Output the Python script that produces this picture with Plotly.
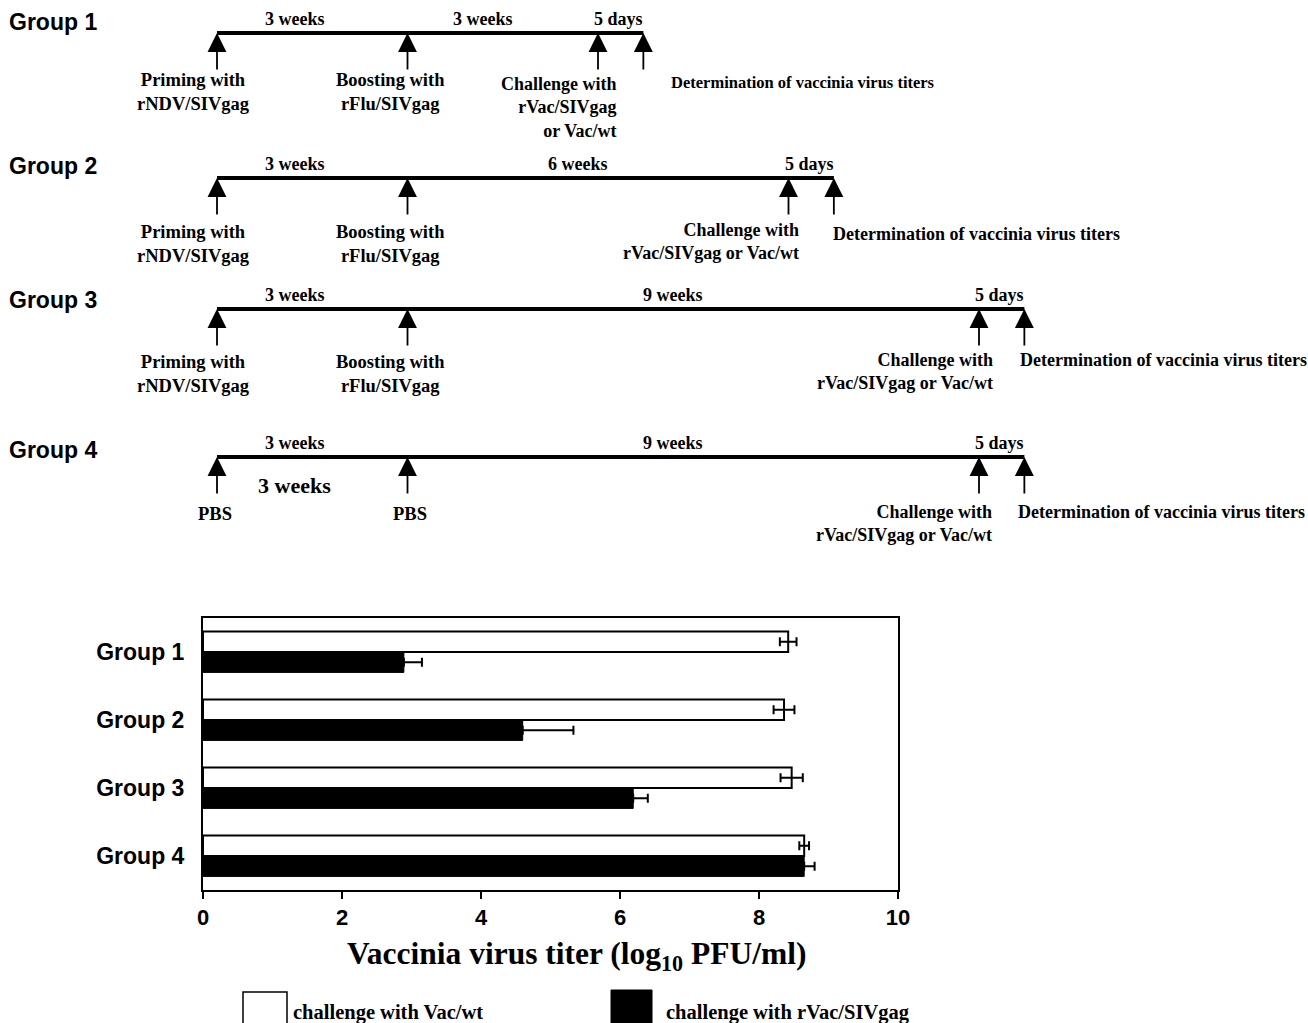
import plotly.graph_objects as go

# ---------------- data: bar chart ----------------
groups = ["Group 1", "Group 2", "Group 3", "Group 4"]
vac_wt = [8.42, 8.36, 8.47, 8.65]          # challenge with Vac/wt
vac_wt_err = [0.12, 0.15, 0.16, 0.07]
rvac_siv = [2.89, 4.60, 6.19, 8.65]        # challenge with rVac/SIVgag
rvac_siv_err = [0.26, 0.73, 0.21, 0.15]
x_ticks = [0, 2, 4, 6, 8, 10]

# ---------------- data: timeline (weeks) ----------------
prime_week = [0, 0, 0, 0]
boost_week = [3, 3, 3, 3]
challenge_week = [6, 9, 12, 12]
assay_days = [5, 5, 5, 5]
prime_text = ["Priming with<br>rNDV/SIVgag"] * 3 + ["PBS"]
boost_text = ["Boosting with<br>rFlu/SIVgag"] * 3 + ["PBS"]
challenge_text = ["Challenge with<br>rVac/SIVgag<br>or Vac/wt"] + ["Challenge with<br>rVac/SIVgag or Vac/wt"] * 3
assay_text = "Determination of vaccinia virus titers"

# ---------------- layout helpers (pixels) ----------------
W, H = 1308, 1023
PX_PER_WEEK = 63.5
X0_PX = 217
row_y = [33, 178, 309, 457]
group_label_y = [22, 166, 300, 450]
label_y = [80, 232, 362, 514]
chal_label_y = [84, 230, 360, 512]
assay_label_y = [83, 234, 360, 512]
prime_shift = [-24, -24, -24, -2]
boost_shift = [-17, -17, -17, 2]
chal_shift = [21, 12, 16, 15]
assay_shift = [26, -3, -6, -8]
assay_size = [16.5, 18, 18, 18]

SERIF = "Liberation Serif"
SANS = "Liberation Sans"

fig = go.Figure()

# bar chart traces
fig.add_trace(go.Bar(
    y=groups, x=vac_wt, orientation="h", name="challenge with Vac/wt",
    marker=dict(color="white", line=dict(color="black", width=2)),
    error_x=dict(type="data", array=vac_wt_err, symmetric=True,
                 color="black", thickness=2, width=4.5),
    xaxis="x", yaxis="y", showlegend=False,
))
fig.add_trace(go.Bar(
    y=groups, x=rvac_siv, orientation="h", name="challenge with rVac/SIVgag",
    marker=dict(color="black", line=dict(color="black", width=1)),
    error_x=dict(type="data", array=rvac_siv_err, arrayminus=[0] * 4, symmetric=False,
                 color="black", thickness=2, width=4.5),
    xaxis="x", yaxis="y", showlegend=False,
))

annotations = []
shapes = []

# timelines
for i in range(4):
    end_w = challenge_week[i] + assay_days[i] / 7.0
    yrow = row_y[i]
    fig.add_trace(go.Scatter(
        x=[prime_week[i], end_w], y=[yrow, yrow], mode="lines",
        line=dict(color="black", width=4), xaxis="x2", yaxis="y2",
        hoverinfo="skip", showlegend=False,
    ))
    events = [prime_week[i], boost_week[i], challenge_week[i], end_w]
    for ev in events:
        annotations.append(dict(
            x=ev, y=yrow, xref="x2", yref="y2", text="", showarrow=True,
            ax=0, ay=38, arrowhead=2, arrowsize=2.1, arrowwidth=1.8, arrowcolor="black",
        ))
    # duration labels
    segs = [(prime_week[i], boost_week[i], f"{boost_week[i] - prime_week[i]} weeks", -17),
            (boost_week[i], challenge_week[i], f"{challenge_week[i] - boost_week[i]} weeks", -20),
            (challenge_week[i], end_w, f"{assay_days[i]} days", -2)]
    for a, b, t, sh in segs:
        annotations.append(dict(
            x=(a + b) / 2, y=yrow - 14, xref="x2", yref="y2", text=f"<b>{t}</b>",
            showarrow=False, xanchor="center", yanchor="middle", xshift=sh,
            font=dict(family=SERIF, size=18, color="black"),
        ))
    # event labels
    annotations.append(dict(
        x=prime_week[i], y=label_y[i] - 12, xref="x2", yref="y2", text=f"<b>{prime_text[i]}</b>",
        showarrow=False, xanchor="center", yanchor="top", xshift=prime_shift[i],
        font=dict(family=SERIF, size=18.5, color="black"),
    ))
    annotations.append(dict(
        x=boost_week[i], y=label_y[i] - 12, xref="x2", yref="y2", text=f"<b>{boost_text[i]}</b>",
        showarrow=False, xanchor="center", yanchor="top", xshift=boost_shift[i],
        font=dict(family=SERIF, size=18.5, color="black"),
    ))
    annotations.append(dict(
        x=challenge_week[i], y=chal_label_y[i] - 12, xref="x2", yref="y2",
        text=f"<b>{challenge_text[i]}</b>", align="right",
        showarrow=False, xanchor="right", yanchor="top", xshift=chal_shift[i],
        font=dict(family=SERIF, size=18, color="black"),
    ))
    annotations.append(dict(
        x=end_w, y=assay_label_y[i] - 12, xref="x2", yref="y2", text=f"<b>{assay_text}</b>",
        showarrow=False, xanchor="left", yanchor="top", xshift=assay_shift[i],
        font=dict(family=SERIF, size=assay_size[i], color="black"),
    ))
    # group label
    annotations.append(dict(
        x=7 / W, y=group_label_y[i], xref="paper", yref="y2", text=f"<b>{groups[i]}</b>",
        showarrow=False, xanchor="left", yanchor="middle",
        font=dict(family=SANS, size=23, color="black"),
    ))

# extra "3 weeks" label under group 4 line
annotations.append(dict(
    x=(prime_week[3] + boost_week[3]) / 2, y=485, xref="x2", yref="y2",
    text=f"<b>{boost_week[3] - prime_week[3]} weeks</b>", showarrow=False,
    xanchor="center", yanchor="middle", xshift=-18,
    font=dict(family=SERIF, size=22, color="black"),
))

# axis title of the bar chart
annotations.append(dict(
    x=576 / W, y=956, xref="paper", yref="y2",
    text="<b>Vaccinia virus titer (log<sub>10</sub> PFU/ml)</b>", showarrow=False,
    xanchor="center", yanchor="middle",
    font=dict(family=SERIF, size=31.5, color="black"),
))

# legend
shapes.append(dict(type="rect", xref="paper", yref="y2", x0=243 / W, x1=287 / W, y0=992, y1=1030,
                   line=dict(color="black", width=1.5), fillcolor="white"))
shapes.append(dict(type="rect", xref="paper", yref="y2", x0=611 / W, x1=652 / W, y0=990, y1=1030,
                   line=dict(color="black", width=1), fillcolor="black"))
annotations.append(dict(
    x=291 / W, y=1012, xref="paper", yref="y2", text="<b>challenge with Vac/wt</b>",
    showarrow=False, xanchor="left", yanchor="middle",
    font=dict(family=SERIF, size=20.5, color="black"),
))
annotations.append(dict(
    x=664 / W, y=1012, xref="paper", yref="y2", text="<b>challenge with rVac/SIVgag</b>",
    showarrow=False, xanchor="left", yanchor="middle",
    font=dict(family=SERIF, size=20.5, color="black"),
))

fig.update_layout(
    width=W, height=H,
    margin=dict(l=0, r=0, t=0, b=0, pad=0, autoexpand=False),
    paper_bgcolor="white", plot_bgcolor="rgba(0,0,0,0)",
    barmode="group", bargap=0.4, bargroupgap=0,
    showlegend=False,
    xaxis=dict(
        domain=[203 / W, 898 / W], range=[0, 10], anchor="y", automargin=False,
        tickvals=x_ticks, ticktext=[f"<b>{v}</b>" for v in x_ticks],
        tickfont=dict(family=SANS, size=22, color="black"),
        ticks="outside", ticklen=7, tickwidth=2, tickcolor="black",
        showline=True, linewidth=2, linecolor="black", mirror=True,
        showgrid=False, zeroline=False, fixedrange=True,
    ),
    yaxis=dict(
        domain=[1 - 890 / H, 1 - 618 / H], anchor="x", automargin=False,
        categoryorder="array", categoryarray=groups, autorange="reversed",
        tickvals=groups, ticktext=[f"<b>{g}</b>" for g in groups],
        tickfont=dict(family=SANS, size=23, color="black"),
        ticks="", ticklabelstandoff=12,
        showline=True, linewidth=2, linecolor="black", mirror=True,
        showgrid=False, zeroline=False, fixedrange=True,
    ),
    xaxis2=dict(
        domain=[0, 1], anchor="y2", automargin=False,
        range=[-X0_PX / PX_PER_WEEK, (W - X0_PX) / PX_PER_WEEK],
        visible=False, fixedrange=True,
    ),
    yaxis2=dict(
        domain=[0, 1], anchor="x2", range=[H, 0], automargin=False,
        visible=False, fixedrange=True,
    ),
    annotations=annotations,
    shapes=shapes,
)

fig.write_html(
    "out.html",
    config={"displayModeBar": False},
    post_script="document.body.style.margin='0px';document.body.style.overflow='hidden';",
)
